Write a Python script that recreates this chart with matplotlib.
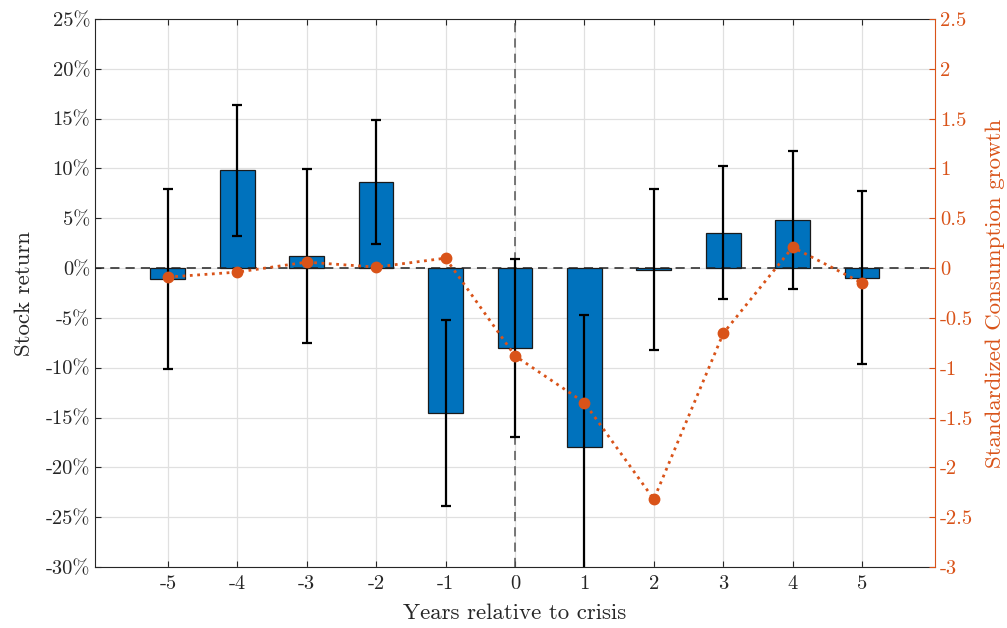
import numpy as np
import matplotlib
matplotlib.use("Agg")
import matplotlib.pyplot as plt

plt.rcParams['font.family'] = 'serif'
plt.rcParams['font.serif'] = ['cmr10', 'DejaVu Serif']
plt.rcParams['mathtext.fontset'] = 'cm'
plt.rcParams['axes.unicode_minus'] = False

# data
years = [-5, -4, -3, -2, -1, 0, 1, 2, 3, 4, 5]
stock_ret = [-1.1, 9.8, 1.2, 8.65, -14.55, -8.05, -18.0, -0.15, 3.55, 4.85, -0.95]
stock_err = [9.05, 6.6, 8.7, 6.2, 9.3, 8.95, 13.3, 8.1, 6.65, 6.9, 8.65]
cons_growth = [-0.09, -0.04, 0.06, 0.01, 0.10, -0.88, -1.35, -2.32, -0.655, 0.21, -0.15]

left_ticks = np.arange(-30, 26, 5)
right_ticks = np.arange(-3, 2.51, 0.5)

blue = '#0072BD'
orange = '#D95319'
dark = '#262626'


def fmt_num(v):
    return '%g' % v


fig = plt.figure(figsize=(10.07, 6.28), dpi=100)
ax = fig.add_axes([0.0943, 0.0971, 0.8342, 0.8726])

ax.bar(years, stock_ret, width=0.5, color=blue, edgecolor='#1a1a1a', linewidth=0.9, zorder=2)
ax.errorbar(years, stock_ret, yerr=stock_err, fmt='none', ecolor='black',
            elinewidth=1.6, capsize=3.3, capthick=1.6, zorder=3)
ax.axhline(0, color='#222222', linestyle=(0, (6, 4)), linewidth=1.1, zorder=2.5)
ax.axvline(0, color='#555555', linestyle=(0, (6, 4)), linewidth=1.1, zorder=2.5)

ax.set_xlim(-6.05, 6.05)
ax.set_ylim(-30, 25)
ax.set_xticks(years)
ax.set_xticklabels([fmt_num(v) for v in years])
ax.set_yticks(left_ticks)
ax.set_yticklabels(['%d%%' % v for v in left_ticks])
ax.grid(True, color='#e0e0e0', linewidth=0.9, zorder=0)
ax.set_axisbelow(True)
ax.tick_params(direction='in', length=4, width=0.8, colors=dark, labelsize=14.8,
               top=True, labelcolor=dark)
ax.tick_params(axis='x', pad=6)
ax.tick_params(axis='y', right=False)
for s in ax.spines.values():
    s.set_color(dark)
    s.set_linewidth(0.8)
ax.spines['right'].set_visible(False)
ax.set_xlabel('Years relative to crisis', fontsize=16.5, color=dark, labelpad=7)
ax.set_ylabel('Stock return', fontsize=16.5, color=dark, labelpad=8)

ax2 = ax.twinx()
ax2.plot(years, cons_growth, linestyle=':', color=orange, linewidth=2,
         marker='o', markersize=7.5, zorder=4)
ax2.set_ylim(-3, 2.5)
ax2.set_yticks(right_ticks)
ax2.set_yticklabels([fmt_num(v) for v in right_ticks])
ax2.tick_params(axis='y', direction='in', length=4, width=0.8, colors=orange, labelsize=14.8)
ax2.spines['right'].set_color(orange)
ax2.spines['right'].set_linewidth(0.8)
for k in ['left', 'top', 'bottom']:
    ax2.spines[k].set_visible(False)
ax2.set_ylabel('Standardized Consumption growth', fontsize=16.5, color=orange, labelpad=9)

fig.savefig('out.png', dpi=100)
